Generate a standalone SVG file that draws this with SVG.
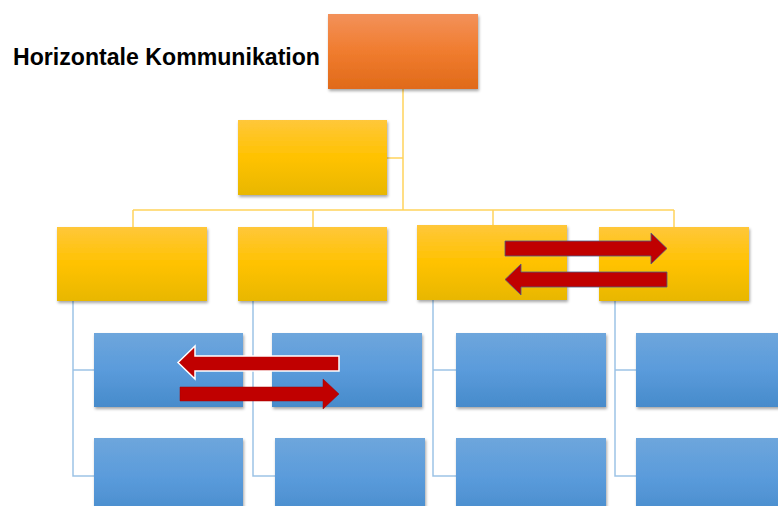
<svg xmlns="http://www.w3.org/2000/svg" width="778" height="506" viewBox="0 0 778 506">
<defs>
<linearGradient id="gOr" x1="0" y1="0" x2="0" y2="1">
<stop offset="0" stop-color="#F3915A"/><stop offset="0.5" stop-color="#F07C2E"/><stop offset="1" stop-color="#E06A1A"/>
</linearGradient>
<linearGradient id="gYe" x1="0" y1="0" x2="0" y2="1">
<stop offset="0" stop-color="#FFC73A"/><stop offset="0.5" stop-color="#FFC200"/><stop offset="1" stop-color="#E8B700"/>
</linearGradient>
<linearGradient id="gBl" x1="0" y1="0" x2="0" y2="1">
<stop offset="0" stop-color="#6EA6DC"/><stop offset="0.5" stop-color="#5A9BDB"/><stop offset="1" stop-color="#478BCB"/>
</linearGradient>
<filter id="sh" x="-10%" y="-10%" width="125%" height="130%">
<feDropShadow dx="1" dy="2" stdDeviation="1.5" flood-color="#000" flood-opacity="0.35"/>
</filter>
</defs>
<style>
.or{fill:url(#gOr);filter:url(#sh)}
.ye{fill:url(#gYe);filter:url(#sh)}
.bl{fill:url(#gBl);filter:url(#sh)}
.cy{fill:none;stroke:#FFD45C;stroke-width:1.5}
.cb{fill:none;stroke:#9DC3E6;stroke-width:1.5}
.ar{fill:#C00000;stroke:#4A5E8C;stroke-width:0.8}
.arw{fill:#C00000;stroke:#FFFFFF;stroke-width:1.5}
.arn{fill:#C00000;stroke:#A00000;stroke-width:0.5}
.t{font-family:"Liberation Sans",Arial,sans-serif;font-weight:bold;font-size:23px;fill:#000}
</style>
<rect width="778" height="506" fill="#fff"/>
<g id="connectors">
<path class="cy" d="M403 89 V210 M387 158 H403 M133 210 H674 M133 210 V227 M313 210 V227 M493 210 V226 M674 210 V227"/>
<path class="cb" d="M73 301 V476 H94 M73 370 H94"/>
<path class="cb" d="M253 301 V476 H275 M253 370 H272"/>
<path class="cb" d="M433 300 V476 H456 M433 370 H456"/>
<path class="cb" d="M615 301 V476 H636 M615 370 H636"/>
</g>
<g id="top"><rect class="or" x="328" y="14" width="150" height="75"/></g>
<g id="assist"><rect class="ye" x="238" y="120" width="149" height="75"/></g>
<g id="m1"><rect class="ye" x="57" y="227" width="150" height="74"/></g>
<g id="m2"><rect class="ye" x="238" y="227" width="149" height="74"/></g>
<g id="m3"><rect class="ye" x="417" y="225" width="150" height="75"/></g>
<g id="m4"><rect class="ye" x="599" y="227" width="150" height="74"/></g>
<g id="b11"><rect class="bl" x="94" y="333" width="149" height="74"/></g>
<g id="b12"><rect class="bl" x="94" y="438" width="149" height="80"/></g>
<g id="b21"><rect class="bl" x="272" y="333" width="150" height="74"/></g>
<g id="b22"><rect class="bl" x="275" y="438" width="150" height="80"/></g>
<g id="b31"><rect class="bl" x="456" y="333" width="150" height="74"/></g>
<g id="b32"><rect class="bl" x="456" y="438" width="150" height="80"/></g>
<g id="b41"><rect class="bl" x="636" y="333" width="150" height="74"/></g>
<g id="b42"><rect class="bl" x="636" y="438" width="150" height="80"/></g>
<g id="arrows">
<polygon class="ar" points="505,241 651,241 651,233 667,248.5 651,264 651,256 505,256"/>
<polygon class="ar" points="667,272 521,272 521,264 505,279.5 521,295 521,287 667,287"/>
<polygon class="arw" points="339,356 195,356 195,346 178,362.5 195,379 195,371 339,371"/>
<polygon class="arn" points="180,387 323,387 323,379 339,394 323,409 323,401 180,401"/>
</g>
<text class="t" x="13" y="65" textLength="307" lengthAdjust="spacingAndGlyphs">Horizontale Kommunikation</text>
</svg>
